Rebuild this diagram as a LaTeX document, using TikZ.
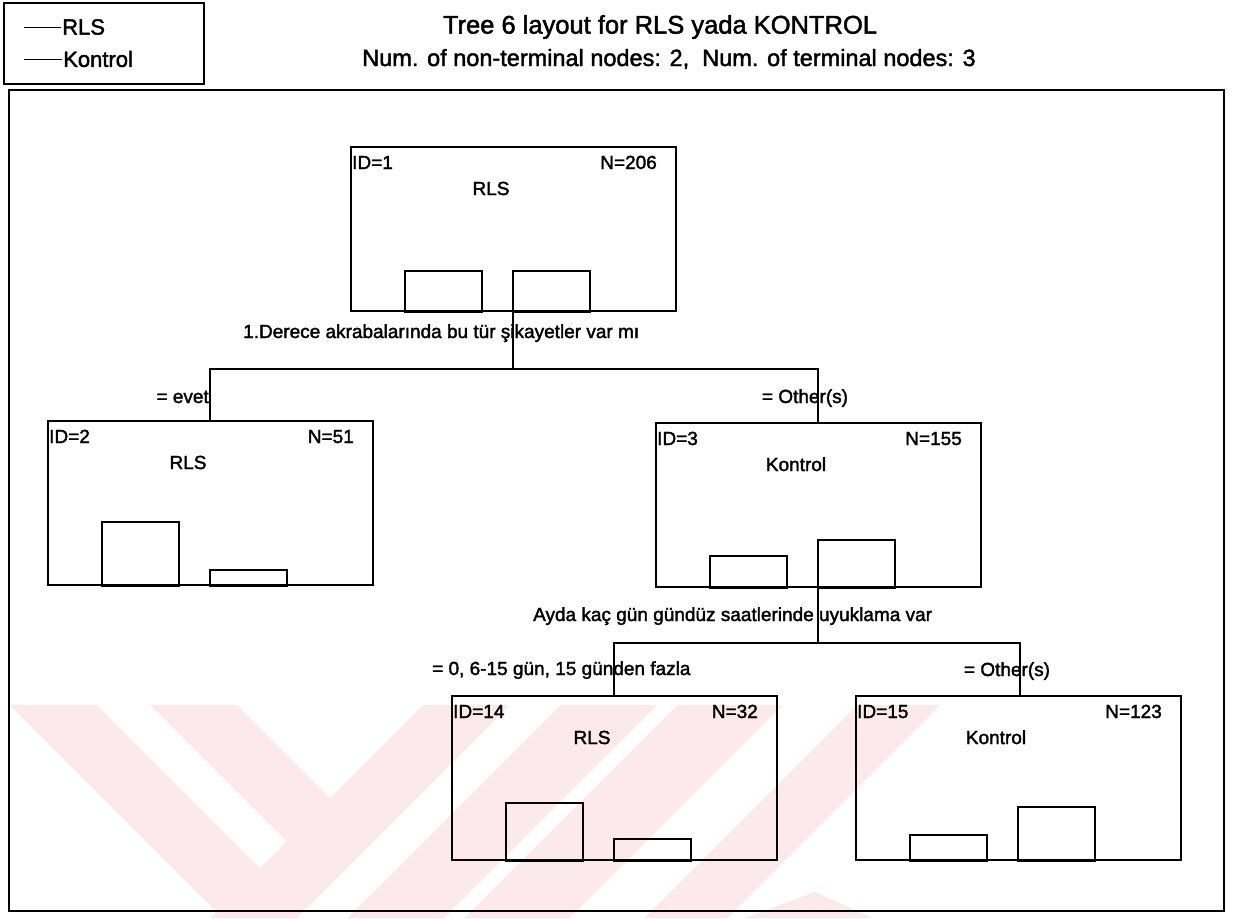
\documentclass[tikz,border=0pt]{standalone}
\usepackage{fontspec}
\setmainfont{Liberation Sans}
\newfontfamily\heavysans{Liberation Sans}[FakeBold=1.8]
\usetikzlibrary{calc}
\definecolor{wmpink}{RGB}{252,233,237}
\begin{document}
\begin{tikzpicture}[x=1pt,y=-1pt,
  treebox/.style={draw, line width=2pt, minimum width=325pt, minimum height=164pt,
                  inner sep=0pt, anchor=north west},
  bar/.style={draw, line width=1.7pt},
  conn/.style={line width=1.8pt},
  txt/.style={font=\heavysans\fontsize{19}{21}\selectfont, inner sep=0pt},
  ttl/.style={font=\heavysans\fontsize{23.5}{26}\selectfont, inner sep=0pt},
  leg/.style={font=\heavysans\fontsize{22}{24}\selectfont, inner sep=0pt, anchor=west}]

\useasboundingbox (0,0) rectangle (1241,918);
\fill[white] (0,0) rectangle (1241,918);

% pale diagonal stripes along the bottom of the page
\begin{scope}
  \clip (0,705) rectangle (1241,918);
  % left chevron
  \fill[wmpink] (10,705) -- (237,705) -- (450,918) -- (223,918) -- cycle;
  \fill[wmpink] (423,705) -- (940,705) -- (727,918) -- (210,918) -- cycle;
  \fill[white] (97,705) -- (150,705) -- (286.5,841.5) -- (260,868) -- cycle;
  % gaps in the rising band
  \fill[white] (510,705) -- (560,705) -- (347,918) -- (297,918) -- cycle;
  \fill[white] (657,705) -- (677,705) -- (464,918) -- (444,918) -- cycle;
  \fill[white] (783,705) -- (857,705) -- (644,918) -- (570,918) -- cycle;
  % small wedge between the lower boxes
  \fill[wmpink] (745,918) -- (815,892) -- (872,918) -- cycle;
\end{scope}

% legend
\draw[line width=1.6pt] (4,3) rectangle (204,84);
\draw[line width=0.9pt] (24,27) -- (61,27);
\node[leg] (legrls) at (62,27) {RLS};
\draw[line width=0.9pt] (24,59) -- (62,59);
\node[leg] (legkon) at (63,59) {Kontrol};

% title
\node[ttl, font=\heavysans\fontsize{25.5}{28}\selectfont] (title1) at (660,27) {Tree 6 layout for RLS yada KONTROL};
\node[ttl] (title2) at (669,59) {Num. of non-terminal nodes: 2,\ \ Num. of terminal nodes: 3};

% outer frame
\draw[line width=1.7pt] (9,90) rectangle (1224,911);

% tree nodes
\node[treebox] (n1)  at (350,146) {};
\node[treebox] (n2)  at (47,420)  {};
\node[treebox] (n3)  at (655,422) {};
\node[treebox] (n14) at (451,695) {};
\node[treebox] (n15) at (855,695) {};

% node contents: id, count, class and the two class bars
\foreach \n/\id/\N/\cls/\ha/\hb in {n1/1/206/RLS/41/41, n2/2/51/RLS/64/16,
    n3/3/155/Kontrol/32/48, n14/14/32/RLS/58/22, n15/15/123/Kontrol/26/54}{
  \node[txt, anchor=base west] at ($(\n.north west)+(2,23)$) {ID=\id};
  \node[txt, anchor=base east] at ($(\n.north east)+(-20,23)$) {N=\N};
  \node[txt, anchor=base] at ($(\n.north west)+(141,49)$) {\cls};
  \draw[bar] ($(\n.south west)+(55,0)$) rectangle ($(\n.south west)+(132,-\ha)$);
  \draw[bar] ($(\n.south west)+(163,0)$) rectangle ($(\n.south west)+(240,-\hb)$);
}

% attachment points
\coordinate (n1b) at ($(n1.south west)+(163,0)$);
\coordinate (n3b) at ($(n3.south west)+(163,0)$);
\coordinate (n2t) at ($(n2.north west)+(163,0)$);
\coordinate (n3t) at ($(n3.north west)+(163,0)$);
\coordinate (n14t) at ($(n14.north west)+(163,0)$);
\coordinate (n15t) at ($(n15.north west)+(165,0)$);
\coordinate (s1) at ($(n1b)+(0,57)$);
\coordinate (s2) at ($(n3b)+(0,55)$);

% split on n1
\draw[conn] (n1b) -- (s1);
\draw[conn] (s1) -| (n2t);
\draw[conn] (s1) -| (n3t);
\node[txt, anchor=base west] (q1) at (243,338) {1.Derece akrabalar\i nda bu t\"ur \c sikayetler var m\i};
\node[txt, anchor=base east] (b2) at (209,403) {= evet};
\node[txt, anchor=base] (b3) at (805,403) {= Other(s)};

% split on n3
\draw[conn] (n3b) -- (s2);
\draw[conn] (s2) -| (n14t);
\draw[conn] (s2) -| (n15t);
\node[txt, anchor=base west] (q2) at (533,621) {Ayda ka\c{c} g\"un g\"und\"uz saatlerinde uyuklama var};
\node[txt, anchor=base west] (b14) at (432,675) {= 0, 6-15 g\"un, 15 g\"unden fazla};
\node[txt, anchor=base] (b15) at (1007,676) {= Other(s)};
\end{tikzpicture}
\end{document}
